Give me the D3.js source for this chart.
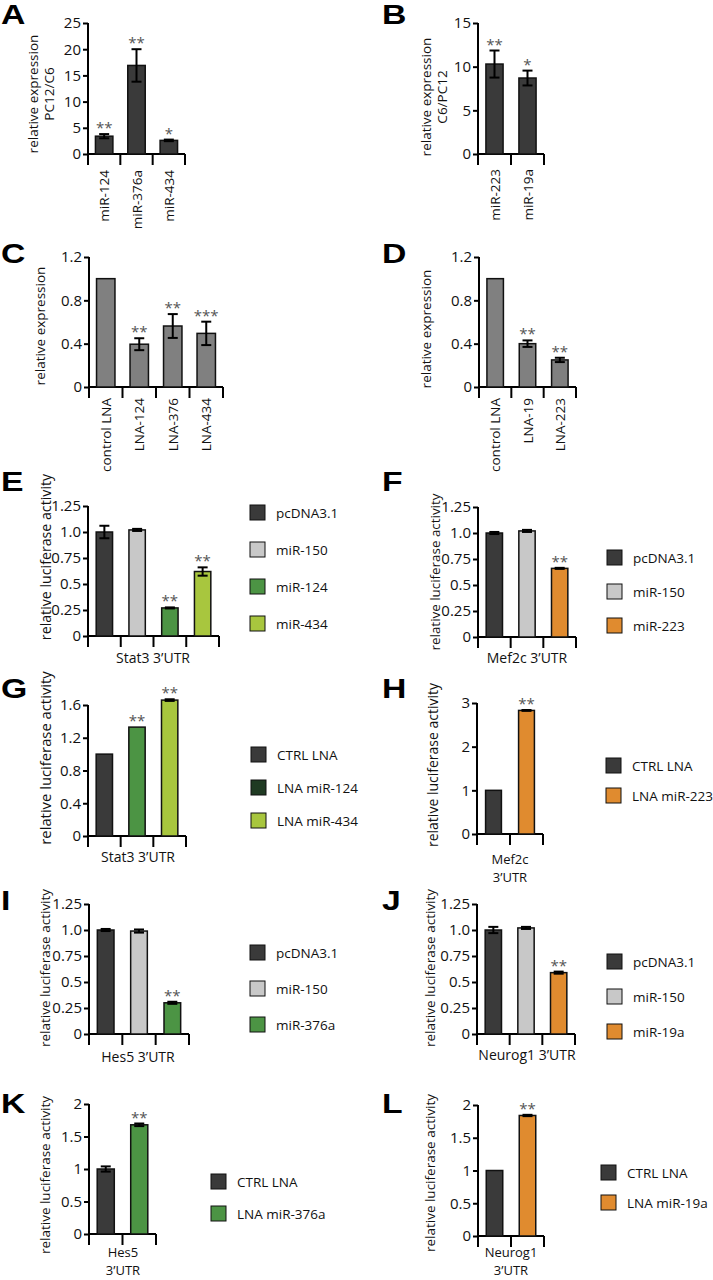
<!DOCTYPE html>
<html>
<head>
<meta charset="UTF-8">
<title>miRNA panels</title>
<script src="https://cdnjs.cloudflare.com/ajax/libs/d3/7.8.5/d3.min.js"></script>
<style>
  body { margin: 0; background: #fff; }
  text { font-family: "Open Sans", sans-serif; fill: #111; }
  .letter { font-family: "Liberation Sans", Arial, sans-serif; font-weight: bold; font-size: 27px; fill: #000; }
  .star { font-size: 15px; fill: #555; }
</style>
</head>
<body>
<svg id="fig" width="713" height="1280"></svg>
<script>
// ---- data ----
const catsA = ["miR-124", "miR-376a", "miR-434"];
const valsA = [3.4, 16.9, 2.6];
const errA = [0.4, 3.1, 0.15];
const sigA = ["**", "**", "*"];
const ticksA = [0, 5, 10, 15, 20, 25];

const catsB = ["miR-223", "miR-19a"];
const valsB = [10.3, 8.7];
const errB = [1.55, 0.85];
const sigB = ["**", "*"];
const ticksB = [0, 5, 10, 15];

const catsC = ["control LNA", "LNA-124", "LNA-376", "LNA-434"];
const valsC = [1.0, 0.395, 0.563, 0.495];
const errC = [0, 0.055, 0.11, 0.108];
const sigC = ["", "**", "**", "***"];
const ticksC = [0, 0.4, 0.8, 1.2];

const catsD = ["control LNA", "LNA-19", "LNA-223"];
const valsD = [1.0, 0.40, 0.25];
const errD = [0, 0.03, 0.02];
const sigD = ["", "**", "**"];

const catsE = ["pcDNA3.1", "miR-150", "miR-124", "miR-434"];
const valsE = [1.0, 1.02, 0.27, 0.62];
const errE = [0.06, 0.01, 0.005, 0.04];
const sigE = ["", "", "**", "**"];
const ticksLuc = [0, 0.25, 0.5, 0.75, 1.0, 1.25];
const tickLabelsLuc = ["0", "0.25", "0.5", "0.75", "1.0", "1.25"];

const catsF = ["pcDNA3.1", "miR-150", "miR-223"];
const valsF = [1.0, 1.02, 0.66];
const errF = [0.01, 0.01, 0.005];
const sigF = ["", "", "**"];

const catsG = ["CTRL LNA", "LNA miR-124", "LNA miR-434"];
const valsG = [1.0, 1.33, 1.66];
const errG = [0, 0, 0.01];
const sigG = ["", "**", "**"];
const ticksG = [0, 0.4, 0.8, 1.2, 1.6];

const catsH = ["CTRL LNA", "LNA miR-223"];
const valsH = [1.0, 2.83];
const errH = [0, 0.01];
const sigH = ["", "**"];
const ticksH = [0, 1, 2, 3];

const catsI = ["pcDNA3.1", "miR-150", "miR-376a"];
const valsI = [1.0, 0.99, 0.30];
const errI = [0.01, 0.015, 0.01];
const sigI = ["", "", "**"];

const catsJ = ["pcDNA3.1", "miR-150", "miR-19a"];
const valsJ = [1.0, 1.02, 0.59];
const errJ = [0.03, 0.01, 0.01];
const sigJ = ["", "", "**"];

const catsK = ["CTRL LNA", "LNA miR-376a"];
const valsK = [1.0, 1.68];
const errK = [0.04, 0.02];
const sigK = ["", "**"];
const ticksKL = [0, 0.5, 1, 1.5, 2];

const catsL = ["CTRL LNA", "LNA miR-19a"];
const valsL = [1.0, 1.84];
const errL = [0, 0.01];
const sigL = ["", "**"];

// ---- colours ----
const DARK = "#3a3a3a", MID = "#808080", LIGHT = "#c8c8c8", GREEN = "#4c9444",
      LIME = "#a8c63e", ORANGE = "#e08b2f", DKGREEN = "#1f3a22";

const svg = d3.select("#fig");

function panel(p) {
  const g = svg.append("g");
  const x = d3.scaleBand().domain(p.cats).range([p.x0, p.x1])
    .paddingInner(p.pad).paddingOuter(p.pad / 2);
  const y = d3.scaleLinear().domain([0, p.max]).range([p.y0, p.yTop]);

  // panel letter (source figure is stretched sideways)
  g.append("text").attr("class", "letter")
    .attr("transform", `translate(${p.lx},${p.ly}) scale(1.25,1)`).text(p.letter);

  // y axis
  const ya = g.append("g").attr("transform", `translate(${p.x0},0)`)
    .call(d3.axisLeft(y).tickValues(p.ticks)
      .tickFormat((d, i) => p.tickLabels ? p.tickLabels[i] : d3.format("~g")(d))
      .tickSize(5).tickSizeOuter(0).tickPadding(2));
  ya.select(".domain").remove();
  ya.selectAll(".tick line").attr("stroke", "#000").attr("stroke-width", 2);
  ya.selectAll(".tick text").attr("font-family", "Open Sans").attr("font-size", 15).attr("fill", "#111");

  const base = p.y0 + 11;
  g.append("line").attr("x1", p.x0).attr("x2", p.x0).attr("y1", p.yTop).attr("y2", base)
    .attr("stroke", "#000").attr("stroke-width", 2);
  g.append("line").attr("x1", p.x0 - 1).attr("x2", p.x1).attr("y1", p.y0).attr("y2", p.y0)
    .attr("stroke", "#000").attr("stroke-width", 2);
  // x ticks at band boundaries
  const bounds = p.cats.map(c => x(c) - x.step() * p.pad / 2).concat([p.x1]);
  g.selectAll(".xt").data(bounds.slice(1)).join("line")
    .attr("x1", d => d).attr("x2", d => d).attr("y1", p.y0).attr("y2", base)
    .attr("stroke", "#000").attr("stroke-width", 2);

  // bars
  g.selectAll(".bar").data(p.cats).join("rect")
    .attr("x", d => x(d)).attr("width", x.bandwidth())
    .attr("y", (d, i) => y(p.vals[i])).attr("height", (d, i) => p.y0 - y(p.vals[i]))
    .attr("fill", (d, i) => p.colors[i]).attr("stroke", "#111").attr("stroke-width", 1.5);

  // error bars + significance
  p.cats.forEach((c, i) => {
    const e = p.errs[i];
    const cx = x(c) + x.bandwidth() / 2;
    if (e > 0) {
      const t = y(p.vals[i] + e), b = y(p.vals[i] - e);
      g.append("line").attr("x1", cx).attr("x2", cx).attr("y1", t).attr("y2", b)
        .attr("stroke", "#000").attr("stroke-width", 2);
      [t, b].forEach(v => g.append("line").attr("x1", cx - 5).attr("x2", cx + 5)
        .attr("y1", v).attr("y2", v).attr("stroke", "#000").attr("stroke-width", 2));
    }
    if (p.sig[i]) {
      g.append("text").attr("class", "star").attr("x", cx).attr("y", y(p.vals[i] + e) - 1)
        .attr("text-anchor", "middle").text(p.sig[i]);
    }
  });

  // y label
  const yl = g.append("text").attr("transform", `translate(${p.ylx},${p.yly}) rotate(-90)`)
    .attr("text-anchor", "middle").attr("font-size", p.ylSize);
  p.ylab.forEach((s, i) => yl.append("tspan").attr("x", 0).attr("dy", i === 0 ? (-(p.ylab.length - 1) * 8) + "" : "16")
    .attr("dominant-baseline", "central").text(s));

  // x labels
  if (p.rotX) {
    g.selectAll(".xl").data(p.cats).join("text")
      .attr("transform", d => `translate(${x(d) + x.bandwidth() / 2},${p.rotX}) rotate(-90)`)
      .attr("text-anchor", "end").attr("dominant-baseline", "central")
      .attr("font-size", 13.5).text(d => d);
  } else {
    const two = p.xlab.length > 1;
    p.xlab.forEach((s, i) => g.append("text").attr("x", p.xlx).attr("y", p.xly + i * 18)
      .attr("text-anchor", "middle").attr("font-size", two ? 13 : 14).text(s));
  }

  // legend
  if (p.leg) {
    const lg = g.append("g");
    p.cats.forEach((c, i) => {
      const cy = p.leg.y + i * p.leg.dy;
      lg.append("rect").attr("x", p.leg.x).attr("y", cy - 7).attr("width", 15).attr("height", 15)
        .attr("fill", (p.legColors || p.colors)[i]).attr("stroke", "#111").attr("stroke-width", 1);
      lg.append("text").attr("x", p.leg.x + 26).attr("y", cy + 0.5).attr("dominant-baseline", "central")
        .attr("font-size", 13.5).text(c);
    });
  }
}

const panels = [
  { letter: "A", lx: 1, ly: 24, cats: catsA, vals: valsA, errs: errA, sig: sigA, ticks: ticksA,
    x0: 88, x1: 185, y0: 154, yTop: 23, max: 25, pad: 0.46, colors: [DARK, DARK, DARK],
    ylab: ["relative expression", "PC12/C6"], ylx: 41, yly: 94, ylSize: 13.5, rotX: 170 },
  { letter: "B", lx: 382, ly: 24, cats: catsB, vals: valsB, errs: errB, sig: sigB, ticks: ticksB,
    x0: 478, x1: 544, y0: 154, yTop: 23, max: 15, pad: 0.48, colors: [DARK, DARK],
    ylab: ["relative expression", "C6/PC12"], ylx: 434, yly: 97, ylSize: 13.5, rotX: 169 },
  { letter: "C", lx: 1, ly: 263, cats: catsC, vals: valsC, errs: errC, sig: sigC, ticks: ticksC,
    x0: 89, x1: 223, y0: 387, yTop: 257, max: 1.2, pad: 0.45, colors: [MID, MID, MID, MID],
    ylab: ["relative expression"], ylx: 40, yly: 326, ylSize: 13.5, rotX: 398 },
  { letter: "D", lx: 382, ly: 263, cats: catsD, vals: valsD, errs: errD, sig: sigD, ticks: ticksC,
    x0: 479, x1: 576, y0: 387, yTop: 257, max: 1.2, pad: 0.49, colors: [MID, MID, MID],
    ylab: ["relative expression"], ylx: 426, yly: 329, ylSize: 13.5, rotX: 398 },
  { letter: "E", lx: 1, ly: 491, cats: catsE, vals: valsE, errs: errE, sig: sigE, ticks: ticksLuc, tickLabels: tickLabelsLuc,
    x0: 88, x1: 219, y0: 636, yTop: 506, max: 1.25, pad: 0.5, colors: [DARK, LIGHT, GREEN, LIME],
    ylab: ["relative luciferase activity"], ylx: 45, yly: 557, ylSize: 14.2,
    xlab: ["Stat3 3’UTR"], xlx: 153, xly: 663, leg: { x: 250, y: 512, dy: 37 } },
  { letter: "F", lx: 382, ly: 491, cats: catsF, vals: valsF, errs: errF, sig: sigF, ticks: ticksLuc, tickLabels: tickLabelsLuc,
    x0: 478, x1: 576, y0: 637, yTop: 507, max: 1.25, pad: 0.5, colors: [DARK, LIGHT, ORANGE],
    ylab: ["relative luciferase activity"], ylx: 435, yly: 572, ylSize: 13.4,
    xlab: ["Mef2c 3’UTR"], xlx: 527, xly: 663, leg: { x: 607, y: 557, dy: 34 } },
  { letter: "G", lx: 1, ly: 698, cats: catsG, vals: valsG, errs: errG, sig: sigG, ticks: ticksG,
    x0: 88, x1: 186, y0: 836, yTop: 705, max: 1.6, pad: 0.5, colors: [DARK, GREEN, LIME], legColors: [DARK, DKGREEN, LIME],
    ylab: ["relative luciferase activity"], ylx: 45, yly: 758, ylSize: 14.8,
    xlab: ["Stat3 3’UTR"], xlx: 138, xly: 862, leg: { x: 251, y: 754, dy: 33 } },
  { letter: "H", lx: 382, ly: 698, cats: catsH, vals: valsH, errs: errH, sig: sigH, ticks: ticksH,
    x0: 477, x1: 543, y0: 834, yTop: 703, max: 3, pad: 0.52, colors: [DARK, ORANGE],
    ylab: ["relative luciferase activity"], ylx: 432, yly: 765, ylSize: 14,
    xlab: ["Mef2c", "3’UTR"], xlx: 510, xly: 864, leg: { x: 606, y: 765, dy: 30 } },
  { letter: "I", lx: 1, ly: 910, cats: catsI, vals: valsI, errs: errI, sig: sigI, ticks: ticksLuc, tickLabels: tickLabelsLuc,
    x0: 89, x1: 189, y0: 1034, yTop: 904, max: 1.25, pad: 0.5, colors: [DARK, LIGHT, GREEN],
    ylab: ["relative luciferase activity"], ylx: 45, yly: 968, ylSize: 13.5,
    xlab: ["Hes5 3’UTR"], xlx: 138, xly: 1062, leg: { x: 250, y: 952, dy: 36 } },
  { letter: "J", lx: 382, ly: 910, cats: catsJ, vals: valsJ, errs: errJ, sig: sigJ, ticks: ticksLuc, tickLabels: tickLabelsLuc,
    x0: 477, x1: 575, y0: 1034, yTop: 904, max: 1.25, pad: 0.5, colors: [DARK, LIGHT, ORANGE],
    ylab: ["relative luciferase activity"], ylx: 430, yly: 968, ylSize: 13.5,
    xlab: ["Neurog1 3’UTR"], xlx: 527, xly: 1060, leg: { x: 607, y: 961, dy: 35 } },
  { letter: "K", lx: 1, ly: 1113, cats: catsK, vals: valsK, errs: errK, sig: sigK, ticks: ticksKL,
    x0: 89, x1: 156, y0: 1234, yTop: 1104, max: 2, pad: 0.49, colors: [DARK, GREEN],
    ylab: ["relative luciferase activity"], ylx: 45, yly: 1175, ylSize: 13.5,
    xlab: ["Hes5", "3’UTR"], xlx: 123, xly: 1257, leg: { x: 211, y: 1181, dy: 32 } },
  { letter: "L", lx: 382, ly: 1113, cats: catsL, vals: valsL, errs: errL, sig: sigL, ticks: ticksKL,
    x0: 478, x1: 544, y0: 1236, yTop: 1105, max: 2, pad: 0.5, colors: [DARK, ORANGE],
    ylab: ["relative luciferase activity"], ylx: 430, yly: 1173, ylSize: 13.5,
    xlab: ["Neurog1", "3’UTR"], xlx: 511, xly: 1257, leg: { x: 601, y: 1172, dy: 30 } }
];

panels.forEach(panel);
</script>
</body>
</html>
